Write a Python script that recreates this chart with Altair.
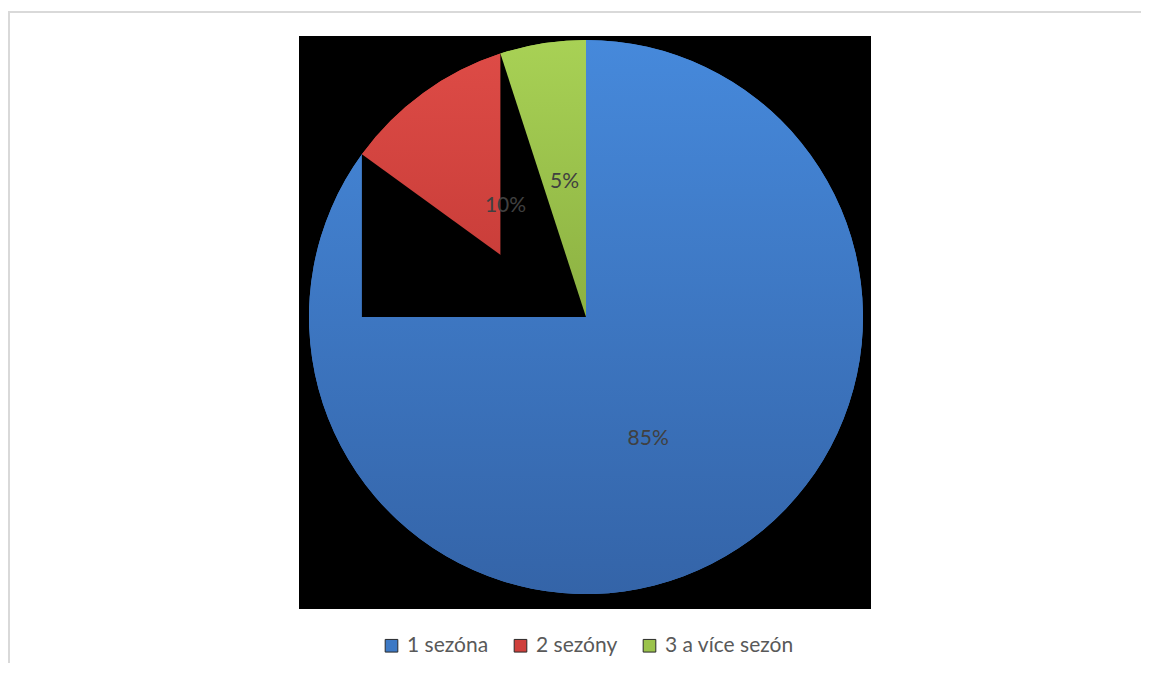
import math
import altair as alt
import pandas as pd

# ---- data ----
categories = ["1 sezóna", "2 sezóny", "3 a více sezón"]
shares = [85, 10, 5]
labels = ["85%", "10%", "5%"]
colors = ["#3d79c5", "#cf403c", "#9bc34b"]

df = pd.DataFrame({
    "cat": categories,
    "share": shares,
    "label": labels,
    "order": list(range(len(categories))),
    "cx": [0.0] * len(categories),
    "cy": [0.0] * len(categories),
})

# boundaries of the slices (fraction of full circle), used for the black
# rendering artefact around the two small slices
total = float(sum(shares))
cum = []
s = 0.0
for v in shares:
    s += v
    cum.append(2 * math.pi * s / total)
a_blue_end, a_red_end = cum[0], cum[1]
rectA = pd.DataFrame({"x1": [math.sin(a_blue_end)], "x2": [0.0],
                      "y1": [0.0], "y2": [math.cos(a_blue_end)]})
rectB = pd.DataFrame({"x1": [math.sin(a_red_end)], "x2": [0.0],
                      "y1": [0.0], "y2": [math.cos(a_red_end)]})

R = 277
xs = alt.Scale(domain=[-1.0361, 1.0289], nice=False, zero=False)
ys = alt.Scale(domain=[-1.0542, 1.0144], nice=False, zero=False)

enc = dict(
    x=alt.X("cx:Q", scale=xs, axis=None),
    y=alt.Y("cy:Q", scale=ys, axis=None),
    theta=alt.Theta("share:Q", stack=True),
    order=alt.Order("order:Q"),
)


def grad(top, bottom):
    return alt.Gradient(gradient="linear", x1=0, x2=0, y1=0, y2=1,
                        stops=[alt.GradientStop(color=top, offset=0),
                               alt.GradientStop(color=bottom, offset=1)])


base = alt.Chart(df)

pie = base.mark_arc(outerRadius=R).encode(
    **enc,
    color=alt.Color("cat:N", scale=alt.Scale(domain=categories, range=colors),
                    legend=alt.Legend(orient="none", legendX=82, legendY=599,
                                      direction="horizontal", title=None,
                                      symbolType="square", symbolSize=160,
                                      symbolStrokeColor="#2a2a2a", symbolStrokeWidth=1,
                                      labelFont="Lato", labelFontSize=21,
                                      labelColor="#595959", columnPadding=21,
                                      labelOffset=5, padding=0)),
)


def slice_layer(i, top, bottom):
    return base.mark_arc(outerRadius=R, fill=grad(top, bottom)).encode(
        **enc,
        fillOpacity=alt.condition(alt.FieldEqualPredicate(field="cat", equal=categories[i]),
                                  alt.value(1), alt.value(0)),
    )


blue = slice_layer(0, "#4689db", "#3464a8")
red = slice_layer(1, "#dd4b46", "#c43a36")
green = slice_layer(2, "#a8d155", "#8cb142")


def black_rect(d):
    return alt.Chart(d).mark_rect(color="black").encode(
        x=alt.X("x1:Q", scale=xs, axis=None), x2="x2:Q",
        y=alt.Y("y1:Q", scale=ys, axis=None), y2="y2:Q")


text = base.mark_text(font="Lato", fontSize=21, color="#404040", radius=137).encode(
    **enc, text="label:N")

one = pd.DataFrame({"k": [0]})
border_top = alt.Chart(one).mark_rule(color="#d9d9d9", strokeWidth=2).encode(
    x=alt.value(-290), x2=alt.value(1200), y=alt.value(-24))
border_left = alt.Chart(one).mark_rule(color="#d9d9d9", strokeWidth=2).encode(
    x=alt.value(-290), y=alt.value(-25), y2=alt.value(700))

chart = alt.layer(
    border_top, border_left, pie, blue, black_rect(rectA), red, black_rect(rectB), green, text
).properties(
    width=572, height=573,
    autosize=alt.AutoSizeParams(type="none"),
    padding={"left": 291, "top": 28, "right": 270, "bottom": 54},
).configure_view(fill="black", stroke=None)

chart.save("out.html", embed_options={"renderer": "svg", "actions": False})
